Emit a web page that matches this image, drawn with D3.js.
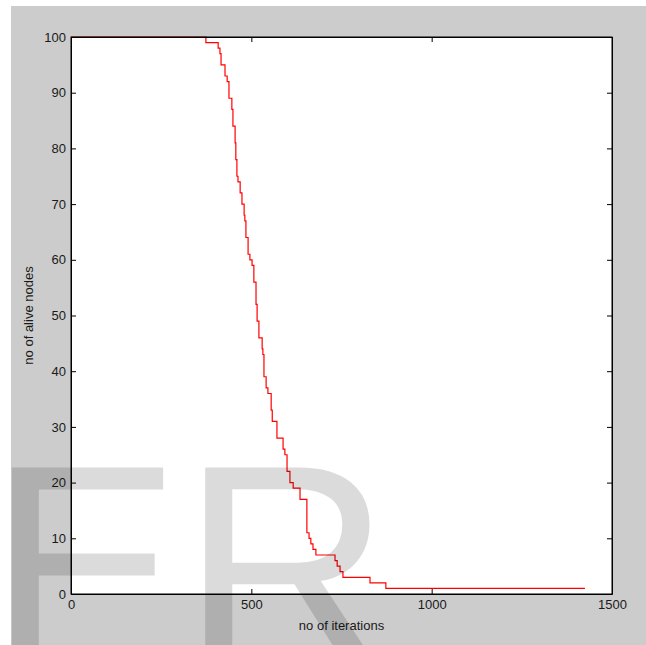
<!DOCTYPE html>
<meta charset="utf-8">
<script src="https://d3js.org/d3.v7.min.js"></script>
<style>
  body { margin: 0; background: #fff; }
  text { font-family: "Liberation Sans", Arial, sans-serif; }
</style>
<div id="chart"></div>
<script>
    // iteration at which the number of alive nodes changes, and the new count
    const iterations = [0, 374, 408, 413, 416, 427, 433, 438, 446, 449, 455, 457, 460, 463, 469, 474, 480, 482, 485, 491, 496, 502, 507, 513, 516, 521, 530, 532, 535, 541, 546, 555, 558, 571, 588, 593, 599, 607, 616, 635, 654, 660, 665, 671, 679, 732, 738, 746, 754, 829, 873, 1425];
    const alive =      [100, 99, 98, 97, 95, 93, 92, 89, 87, 84, 81, 78, 75, 74, 72, 70, 68, 67, 64, 61, 60, 59, 56, 52, 49, 46, 44, 43, 39, 37, 36, 33, 31, 28, 26, 25, 22, 20, 19, 17, 11, 10, 9, 8, 7, 6, 5, 4, 3, 2, 1, 1];
    const xTicks = [0, 500, 1000, 1500];
    const yTicks = [0, 10, 20, 30, 40, 50, 60, 70, 80, 90, 100];

    const W = 646, H = 645;
    const margin = {top: 37, left: 71, right: 34, bottom: 51};
    const width = W - margin.left - margin.right,
        height = H - margin.top - margin.bottom;

    const svg = d3.select("#chart").append("svg")
        .attr("width", W)
        .attr("height", H);

    // grey figure background
    svg.append("rect")
        .attr("x", 11).attr("y", 6)
        .attr("width", W - 11).attr("height", H - 6)
        .attr("fill", "#cccccc");

    const g = svg.append("g")
        .attr("transform", `translate(${margin.left},${margin.top})`);

    g.append("rect")
        .attr("width", width).attr("height", height)
        .attr("fill", "#fff");

    // watermark
    svg.append("text")
        .attr("x", -12).attr("y", 667)
        .attr("font-size", 290)
        .attr("fill", "#000")
        .attr("fill-opacity", 0.14)
        .text("ER");

    const x = d3.scaleLinear().domain([0, 1500]).range([0, width]);
    const y = d3.scaleLinear().domain([0, 100]).range([height, 0]);

    const data = iterations.map((d, i) => [d, alive[i]]);

    g.append("path")
        .datum(data)
        .attr("fill", "none")
        .attr("stroke", "#ff0000")
        .attr("stroke-width", 1.2)
        .attr("d", d3.line()
            .curve(d3.curveStepAfter)
            .x(d => x(d[0]))
            .y(d => y(d[1])));

    const tickFont = g => g.selectAll("text")
        .attr("font-size", 13)
        .attr("fill", "#1a1a1a")
        .style("font-family", "'Liberation Sans', Arial, sans-serif");

    g.append("g")
        .attr("transform", `translate(0,${height})`)
        .call(d3.axisBottom(x).tickValues(xTicks).tickFormat(d3.format("d")).tickSizeInner(-5).tickSizeOuter(0).tickPadding(6))
        .call(tickFont);
    g.append("g")
        .call(d3.axisTop(x).tickValues(xTicks).tickSizeInner(-5).tickSizeOuter(0).tickFormat(""));
    g.append("g")
        .call(d3.axisLeft(y).tickValues(yTicks).tickFormat(d3.format("d")).tickSizeInner(-5).tickSizeOuter(0).tickPadding(5))
        .call(tickFont);
    g.append("g")
        .attr("transform", `translate(${width},0)`)
        .call(d3.axisRight(y).tickValues(yTicks).tickSizeInner(-5).tickSizeOuter(0).tickFormat(""));

    g.selectAll(".domain").attr("stroke", "#000");
    g.selectAll(".tick line").attr("stroke", "#000");

    // box
    g.append("rect")
        .attr("width", width).attr("height", height)
        .attr("fill", "none").attr("stroke", "#000");

    g.append("text")
        .attr("x", width / 2).attr("y", height + 36)
        .attr("text-anchor", "middle")
        .attr("font-size", 13).attr("fill", "#1a1a1a")
        .text("no of iterations");

    g.append("text")
        .attr("transform", `translate(-38,${height / 2}) rotate(-90)`)
        .attr("text-anchor", "middle")
        .attr("font-size", 13).attr("fill", "#1a1a1a")
        .text("no of alive nodes");
</script>
